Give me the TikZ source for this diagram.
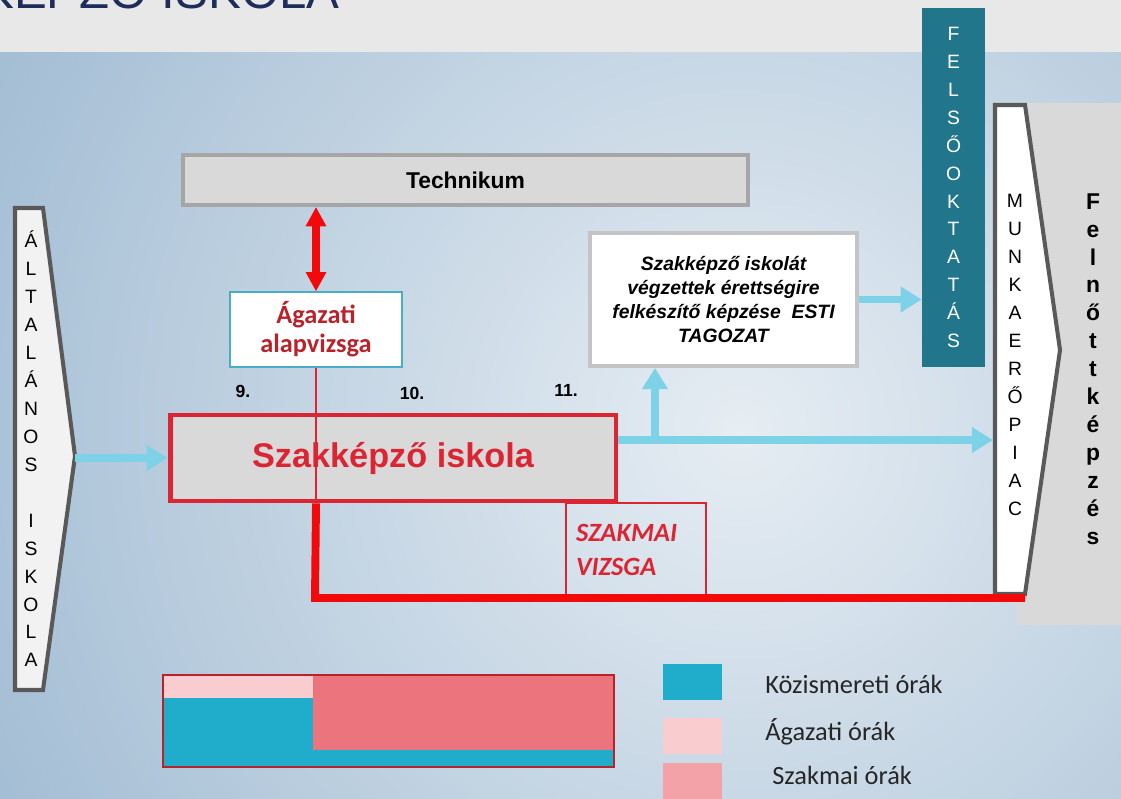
\documentclass[tikz,border=0pt]{standalone}
\usepackage{fontspec}
\setmainfont{Liberation Sans}
\newfontfamily\calibri{Carlito}
\usetikzlibrary{arrows.meta}

\definecolor{bandgray}{HTML}{E8E8E8}
\definecolor{bgblue}{HTML}{8EAECA}
\definecolor{bglight}{HTML}{E6EDF3}
\definecolor{titleblue}{HTML}{1F2D5C}
\definecolor{boxgray}{HTML}{D9D9D9}
\definecolor{framegray}{HTML}{A6A6A6}
\definecolor{escgray}{HTML}{C4C4C4}
\definecolor{arrowframe}{HTML}{595959}
\definecolor{schoolred}{HTML}{DC2533}
\definecolor{pathred}{HTML}{F20A0A}
\definecolor{darkred}{HTML}{B8232B}
\definecolor{examteal}{HTML}{4BACC6}
\definecolor{flowblue}{HTML}{7ED2E8}
\definecolor{higherteal}{HTML}{22768B}
\definecolor{subjteal}{HTML}{20ADCB}
\definecolor{sectpink}{HTML}{F9CDD0}
\definecolor{profsalmon}{HTML}{EC757D}
\definecolor{legsalmon}{HTML}{F3A2A7}
\definecolor{legtext}{HTML}{262626}

\begin{document}
\begin{tikzpicture}[x=0.02cm, y=-0.02cm,
  box/.style={draw, rectangle, inner sep=0pt},
  flow/.style={draw=flowblue, line width=4pt, -{Triangle[width=14pt,length=12pt]}},
  redpath/.style={draw=pathred, line width=4.5pt},
  letters/.style={align=center, inner sep=0pt, font=\fontsize{11}{15.9}\selectfont},
  swatch/.style={rectangle, inner sep=0pt, minimum width=1.18cm, minimum height=0.72cm},
  legendtext/.style={anchor=west, inner sep=0pt, text=legtext, font=\calibri\fontsize{15}{18}\selectfont},
  yearno/.style={inner sep=0pt, font=\bfseries\fontsize{10}{12}\selectfont}]
\useasboundingbox (0,0) rectangle (1121,798);
\clip (0,0) rectangle (1121,798);
\fill[bandgray] (0,0) rectangle (1121,52);
\fill[bgblue] (0,52) rectangle (1121,798);
\begin{scope}
  \clip (0,52) rectangle (1121,798);
  \shade[inner color=bglight, outer color=bgblue] (740,430) circle (1100);
\end{scope}
\node[anchor=base west, inner sep=0pt, text=titleblue, font=\fontsize{28}{30}\selectfont] (title) at (-19,8) {KÉPZŐ ISKOLA};

% right side
\fill[boxgray] (1017,103) rectangle (1121,625);
\node[letters, font=\bfseries\fontsize{13}{15.9}\selectfont] (felnott) at (1093,369) {F\\e\\l\\n\\ő\\t\\t\\k\\é\\p\\z\\é\\s};
\draw[arrowframe, line width=2.3pt, fill=white] (995,105) -- (1025,105) -- (1060,350) -- (1025,594) -- (995,594) -- cycle;
\node[letters] (munka) at (1015,355) {M\\U\\N\\K\\A\\E\\R\\Ő\\P\\I\\A\\C};
\coordinate (munkain) at (993,440);
\coordinate (redend) at (1025,598);
\node[box, draw=none, fill=higherteal, minimum width=1.26cm, minimum height=7.18cm, text=white, letters] (felso) at (953.5,187.5) {F\\E\\L\\S\\Ő\\O\\K\\T\\A\\T\\Á\\S};

% left side
\draw[arrowframe, line width=2.3pt, fill=white!95!black] (15,208) -- (43,208) -- (75,456) -- (43,690) -- (15,690) -- cycle;
\coordinate (alttip) at (75,456);
\node[letters] (alt) at (31,449) {Á\\L\\T\\A\\L\\Á\\N\\O\\S\\\strut\\I\\S\\K\\O\\L\\A};

% boxes
\node[box, draw=framegray, line width=2.2pt, fill=boxgray, minimum width=11.3cm, minimum height=1cm, font=\bfseries\fontsize{13}{15}\selectfont] (technikum) at (465.5,180) {Technikum};
\node[box, draw=examteal, line width=0.7pt, fill=white, minimum width=3.44cm, minimum height=1.5cm, align=center, text=darkred, font=\calibri\bfseries\fontsize{15}{16.4}\selectfont] (agazati) at (316,329.5) {Ágazati\\alapvizsga};
\node[box, draw=escgray, line width=2.2pt, fill=white, minimum width=5.34cm, minimum height=2.66cm, align=center, font=\bfseries\itshape\fontsize{11}{13.6}\selectfont] (esti) at (723.5,299.5) {Szakképző iskolát\\végzettek érettségire\\felkészítő képzése\ \ ESTI\\TAGOZAT};
\node[box, draw=schoolred, line width=2.8pt, fill=boxgray, minimum width=8.92cm, minimum height=1.72cm, text=schoolred, font=\bfseries\fontsize{19.5}{22}\selectfont] (szak) at (393,458) {Szakképző iskola};
\node[box, draw=schoolred, line width=0.7pt, minimum width=2.8cm, minimum height=1.88cm, text width=2.4cm, inner xsep=0.2cm, align=left, text=schoolred, font=\calibri\bfseries\itshape\fontsize{15}{19.3}\selectfont] (vizsga) at (636,550) {SZAKMAI\\VIZSGA};
\node[yearno] (ev9) at (243,391) {9.};
\node[yearno] (ev10) at (412,393) {10.};
\node[yearno] (ev11) at (566,390) {11.};

% connectors
\draw[pathred, line width=4.5pt, {Triangle[width=11pt,length=11pt]}-{Triangle[width=11pt,length=11pt]}] (technikum.south -| agazati.north) -- (agazati.north);
\draw[flow] (szak.west -| alttip) -- (szak.west);
\coordinate (split) at (655,440);
\draw[flow] (szak.east |- split) -- (munkain);
\draw[flow] (split) -- (split |- esti.south);
\draw[flow] (esti.east) -- (esti.east -| felso.west);
\draw[schoolred, line width=1.1pt] (agazati.south) -- (agazati.south |- szak.south);
\coordinate (redcorner) at (315,598);
\draw[redpath] (agazati.south |- szak.south) -- (redcorner) -- (redend);

% legend
\fill[profsalmon] (163,675) rectangle (614,767);
\fill[subjteal] (163,698) rectangle (313,767);
\fill[subjteal] (163,750) rectangle (614,767);
\fill[sectpink] (163,675) rectangle (313,698);
\draw[darkred, line width=1.2pt] (163,675) rectangle (614,767);
\node[swatch, fill=subjteal] (kozsw) at (692.5,681.5) {};
\node[swatch, fill=sectpink] (agsw) at (692.5,736) {};
\node[swatch, fill=legsalmon] (szsw) at (692.5,780.5) {};
\node[legendtext] (kozlab) at (765,684) {Közismereti órák};
\node[legendtext] (aglab) at (765,732) {Ágazati órák};
\node[legendtext] (szlab) at (772,775) {Szakmai órák};
\end{tikzpicture}
\end{document}
